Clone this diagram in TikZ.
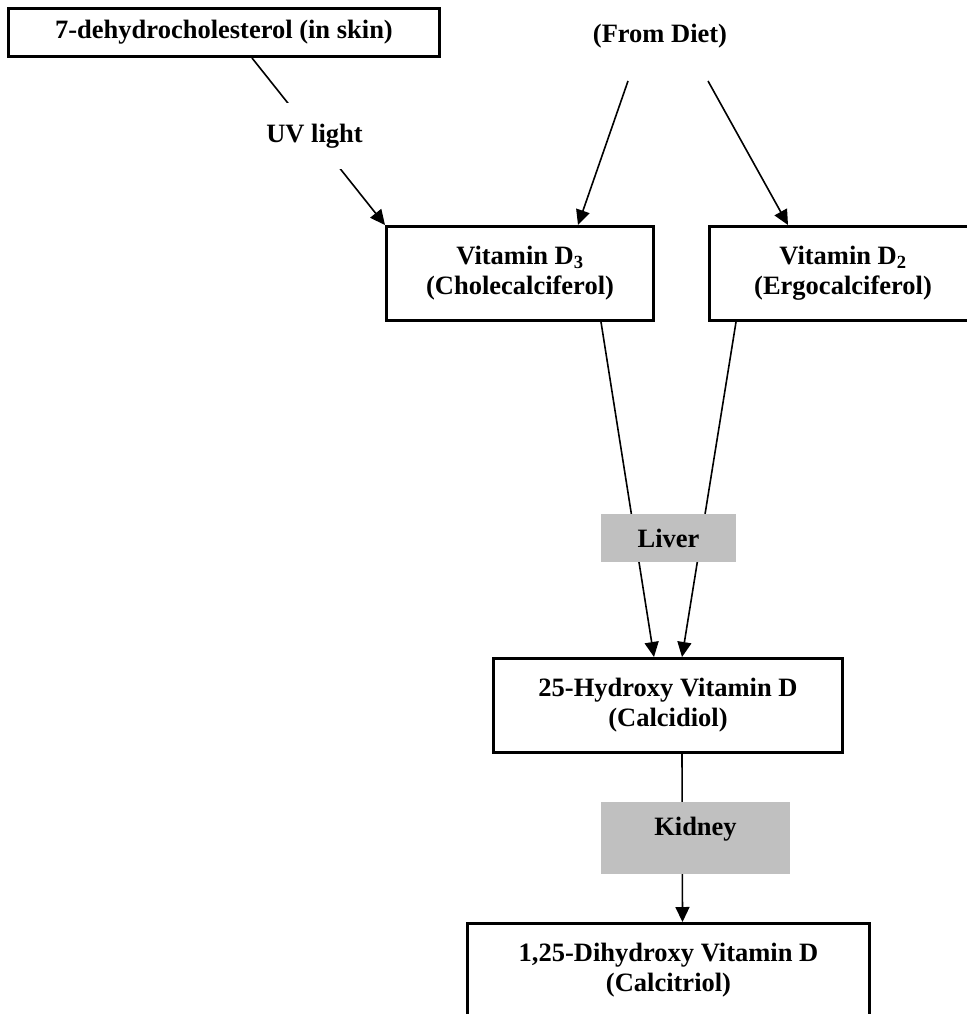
\documentclass[tikz,border=0pt]{standalone}
\usepackage{fontspec}
\setmainfont{Liberation Serif}
\usetikzlibrary{arrows.meta}
\definecolor{organgray}{HTML}{C0C0C0}

\begin{document}
\begin{tikzpicture}[x=1pt,y=-1pt,
	font=\fontsize{26.5}{30}\selectfont\bfseries,
	box/.style={shape=rectangle,draw=black,fill=white,line width=3pt,align=center,minimum height=94pt},
	organ/.style={shape=rectangle,fill=organgray,inner sep=0pt},
	flow/.style={line width=1.6pt,-{Triangle[length=15pt,width=14pt]}},
	gap/.style={fill=white,minimum width=110pt,minimum height=66pt,inner sep=0pt}]

		\useasboundingbox (0,0) rectangle (966,1014);

		\node[box,minimum width=431pt,minimum height=48pt] (skin) at (224,32.5) {7-dehydrocholesterol (in skin)};
		\node (diet) at (660,36) {(From Diet)};
		\coordinate (dietL) at (628,81);
		\coordinate (dietR) at (708,81);

		\node[box,minimum width=267pt] (d3) at (520,273.5) {Vitamin D\textsubscript{3}\\(Cholecalciferol)};
		% box runs past the page edge on the right
		\node[box,minimum width=307pt] (d2) at (863,273.5) {Vitamin D\textsubscript{2}\hspace*{40pt}\\(Ergocalciferol)\hspace*{40pt}};
		\node[box,minimum width=349pt] (hyd) at (668,705.5) {25-Hydroxy Vitamin D\\(Calcidiol)};
		\node[box,minimum width=402pt] (calcitriol) at (668.5,970.5) {1,25-Dihydroxy Vitamin D\\(Calcitriol)};

		\path[flow] ([xshift=28pt]skin.south) edge node[gap,pos=0.47] {UV light} (d3.north west);
		\path[flow] (dietL) edge ([xshift=58pt]d3.north);
		\path[flow] (dietR) edge ([xshift=80pt]d2.south west |- d2.north);
		\path[flow] ([xshift=81pt]d3.south) edge ([xshift=-14pt]hyd.north);
		\path[flow] ([xshift=28pt]d2.south west) edge ([xshift=14pt]hyd.north);
		\path[flow] ([xshift=14pt]hyd.south) edge ([xshift=14pt]calcitriol.north);

		\node[organ,minimum width=135pt,minimum height=48pt] (liver) at (668.5,538) {Liver};
		\node[organ,minimum width=189pt,minimum height=72pt,text depth=24pt] (kidney) at (695.5,838) {Kidney};

\end{tikzpicture}
\end{document}
